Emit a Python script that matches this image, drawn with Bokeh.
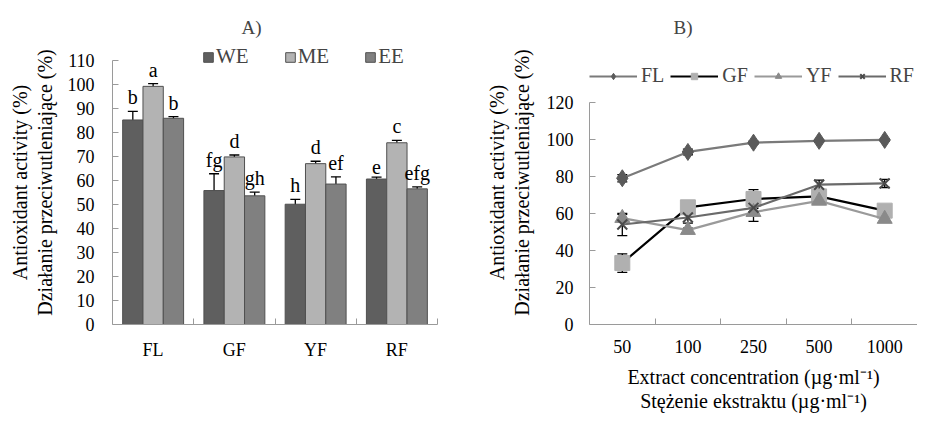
from bokeh.plotting import figure
from bokeh.models import (Range1d, SingleIntervalTicker, FixedTicker, Whisker, TeeHead,
                          ColumnDataSource, Legend, LegendItem)
from bokeh.layouts import row
from bokeh.core.properties import value
from bokeh.embed import file_html
from bokeh.resources import INLINE

FONT = "Liberation Serif"

# ---------------- data: panel A ----------------
cats_a = ["FL", "GF", "YF", "RF"]
series_a = ["WE", "ME", "EE"]
we_vals = [85.2, 55.8, 50.1, 60.6]
we_err = [3.6, 7.0, 2.0, 0.8]
me_vals = [99.2, 69.8, 67.0, 75.7]
me_err = [1.1, 0.8, 1.0, 1.0]
ee_vals = [85.9, 53.6, 58.5, 56.5]
ee_err = [0.7, 1.5, 3.0, 0.8]
we_letters = ["b", "fg", "h", "e"]
me_letters = ["a", "d", "d", "c"]
ee_letters = ["b", "gh", "ef", "efg"]
colors_a = ["#5f5f5f", "#b3b3b3", "#808080"]

# ---------------- data: panel B ----------------
conc_b = ["50", "100", "250", "500", "1000"]
series_b = ["FL", "GF", "YF", "RF"]
fl_b = [79.0, 93.2, 98.2, 99.2, 99.7]
fl_err = [2.0, 1.5, 0.8, 0.6, 0.6]
gf_b = [33.2, 63.3, 67.8, 69.2, 61.5]
gf_err = [5.0, 1.0, 5.0, 1.2, 1.0]
yf_b = [57.5, 51.0, 60.7, 66.8, 57.0]
yf_err = [2.0, 1.0, 5.0, 1.0, 1.0]
rf_b = [54.0, 57.8, 63.0, 75.5, 76.2]
rf_err = [6.0, 3.0, 2.0, 2.5, 2.2]

AXIS_COL = "#9a9a9a"
FIG_H = 415
TOP = 40
BOTTOM = 90


def style_axes(p):
    for ax in (p.xaxis[0], p.yaxis[0]):
        ax.axis_line_color = AXIS_COL
        ax.major_tick_line_color = AXIS_COL
        ax.minor_tick_line_color = AXIS_COL
        ax.major_label_text_font = FONT
        ax.major_label_text_font_size = "18px"
        ax.major_label_text_color = "black"
        ax.axis_label_text_font = FONT
        ax.axis_label_text_font_size = "20px"
        ax.axis_label_text_font_style = "normal"
        ax.axis_label_text_color = "black"
        ax.axis_label_text_line_height = 1.12
    p.xaxis.major_tick_out = 0
    p.xaxis.major_tick_in = 0
    p.xgrid.visible = False
    p.ygrid.visible = False
    p.outline_line_color = None
    p.title.text_font = FONT
    p.title.text_font_size = "19px"
    p.title.text_font_style = "normal"
    p.title.align = "left"
    p.title.vertical_align = "middle"
    p.title.standoff = 3


# ================= panel A =================
nA = len(cats_a)
pA = figure(width=457, height=FIG_H, output_backend="svg", toolbar_location=None,
            x_range=Range1d(0, nA), y_range=Range1d(0, 118.3),
            min_border_left=112, min_border_right=20, min_border_top=TOP,
            min_border_bottom=BOTTOM, title="A)")
style_axes(pA)
pA.title.offset = 129

pA.yaxis.ticker = SingleIntervalTicker(interval=10, num_minor_ticks=0)
pA.yaxis.bounds = (0, 110)
pA.yaxis.major_tick_in = 6
pA.yaxis.major_tick_out = 0
pA.yaxis.major_label_standoff = 18
pA.yaxis.axis_label = "Antioxidant activity (%)\nDziałanie przeciwutleniające (%)"
pA.yaxis.axis_label_standoff = 9

centers_a = [i + 0.5 for i in range(nA)]
pA.xaxis.ticker = FixedTicker(ticks=centers_a, minor_ticks=[i + 1 for i in range(nA)])
pA.xaxis.major_label_overrides = {c: lab for c, lab in zip(centers_a, cats_a)}
pA.xaxis.major_tick_line_color = None
pA.xaxis.minor_tick_in = 6
pA.xaxis.minor_tick_out = 0
pA.xaxis.major_label_standoff = 15

bar_w = 0.25
vals_all = [we_vals, me_vals, ee_vals]
errs_all = [we_err, me_err, ee_err]
lets_all = [we_letters, me_letters, ee_letters]
bar_renderers = []
for j, (name, vals, errs, lets, col) in enumerate(zip(series_a, vals_all, errs_all, lets_all, colors_a)):
    xs = [c + (j - 1) * bar_w for c in centers_a]
    src = ColumnDataSource(dict(
        x=xs, top=vals,
        upper=[v + e for v, e in zip(vals, errs)],
        lower=[v - e for v, e in zip(vals, errs)],
        letter=lets))
    r = pA.vbar(x="x", top="top", width=bar_w, bottom=0, source=src,
                fill_color=col, line_color="#505050", line_width=1)
    bar_renderers.append(r)
    w = Whisker(base="x", upper="upper", lower="lower", source=src,
                line_color="black", line_width=1.3,
                upper_head=TeeHead(size=10, line_color="black", line_width=1.3),
                lower_head=TeeHead(size=10, line_color="black", line_width=1.3))
    pA.add_layout(w)
    pA.text(x="x", y="upper", text="letter", source=src, text_align="center",
            text_baseline="bottom", y_offset=-3, text_font=value(FONT),
            text_font_size="20px", text_color="black")

legA = Legend(items=[LegendItem(label=s, renderers=[r]) for s, r in zip(series_a, bar_renderers)],
              orientation="horizontal", location=(90, 255), glyph_width=12, glyph_height=12,
              label_standoff=2, spacing=35, padding=0, margin=0, border_line_color=None,
              background_fill_alpha=0, label_text_font=FONT, label_text_font_size="21px")
pA.add_layout(legA)

# ================= panel B =================
nB = len(conc_b)
pB = figure(width=460, height=FIG_H, output_backend="svg", toolbar_location=None,
            x_range=Range1d(0, nB), y_range=Range1d(0, 153.4),
            min_border_left=132, min_border_right=0, min_border_top=TOP,
            min_border_bottom=BOTTOM, title="B)")
style_axes(pB)
pB.title.offset = 84

pB.yaxis.ticker = SingleIntervalTicker(interval=20, num_minor_ticks=0)
pB.yaxis.bounds = (0, 120)
pB.yaxis.major_tick_in = 6
pB.yaxis.major_tick_out = 0
pB.yaxis.major_label_standoff = 16
pB.yaxis.axis_label = "Antioxidant activity (%)\nDziałanie przeciwutleniające (%)"
pB.yaxis.axis_label_standoff = 11

centers_b = [i + 0.5 for i in range(nB)]
pB.xaxis.ticker = FixedTicker(ticks=centers_b, minor_ticks=[i + 1 for i in range(nB - 1)])
pB.xaxis.major_label_overrides = {c: lab for c, lab in zip(centers_b, conc_b)}
pB.xaxis.major_tick_line_color = None
pB.xaxis.minor_tick_in = 6
pB.xaxis.minor_tick_out = 0
pB.xaxis.major_label_standoff = 15
pB.xaxis.axis_label = "Extract concentration (µg·ml\u207b\u00b9)\nStężenie ekstraktu (µg·ml\u207b\u00b9)"
pB.xaxis.axis_label_standoff = 10

b_vals = [fl_b, gf_b, yf_b, rf_b]
b_errs = [fl_err, gf_err, yf_err, rf_err]
line_cols = ["#7a7a7a", "#000000", "#9a9a9a", "#6a6a6a"]
mk_cols = ["#5a5a5a", "#b0b0b0", "#8a8a8a", "#4a4a4a"]
markers = ["diamond", "square", "triangle", "x"]
sizes = [17, 15, 15, 14]
items_b = []
for name, vals, errs, lc, mc, mk, sz in zip(series_b, b_vals, b_errs, line_cols, mk_cols, markers, sizes):
    src = ColumnDataSource(dict(
        x=centers_b, y=vals,
        upper=[v + e for v, e in zip(vals, errs)],
        lower=[v - e for v, e in zip(vals, errs)]))
    w = Whisker(base="x", upper="upper", lower="lower", source=src,
                line_color="black", line_width=1.3,
                upper_head=TeeHead(size=10, line_color="black", line_width=1.3),
                lower_head=TeeHead(size=10, line_color="black", line_width=1.3))
    pB.add_layout(w)
    lr = pB.line(x="x", y="y", source=src, line_color=lc, line_width=2.2)
    if mk == "x":
        sr = pB.scatter(x="x", y="y", source=src, marker=mk, size=sz,
                        line_color=mc, line_width=2)
    else:
        sr = pB.scatter(x="x", y="y", source=src, marker=mk, size=sz,
                        fill_color=mc, line_color=mc)
    items_b.append(LegendItem(label=name, renderers=[lr, sr]))

legB = Legend(items=items_b, orientation="horizontal", location=(0, 237),
              glyph_width=48, glyph_height=16, label_standoff=4, spacing=6,
              padding=0, margin=0, border_line_color=None, background_fill_alpha=0,
              label_text_font=FONT, label_text_font_size="20px")
pB.add_layout(legB)

layout = row(pA, pB)
open("out.html", "w").write(file_html(layout, INLINE))
